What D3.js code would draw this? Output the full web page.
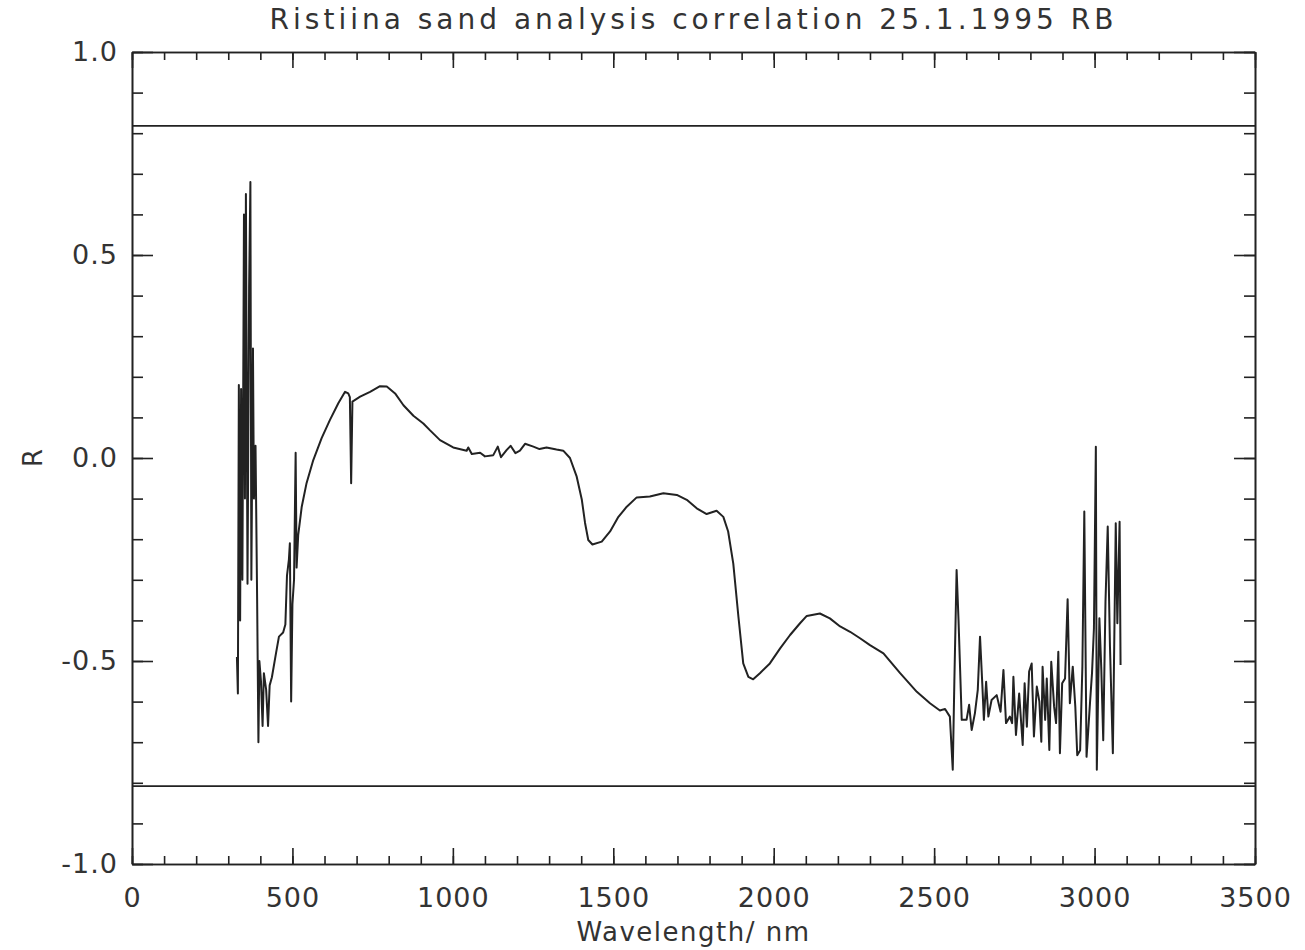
<!DOCTYPE html>
<html>
<head>
<meta charset="utf-8">
<script src="https://cdn.jsdelivr.net/npm/d3@7"></script>
<style>
  body { margin: 0; background: #fff; }
  text { font-family: "DejaVu Sans", sans-serif; fill: #333; }
</style>
</head>
<body>
<div id="chart"></div>
<script>
// correlation spectrum (wavelength in nm, R)
const wavelength = [
  327, 330, 333, 337, 340, 344, 349, 352, 355, 360, 365, 369, 372, 377, 380, 385, 390, 394, 397, 402,
  407, 411, 418, 424, 429, 436, 449, 458, 471, 478, 483, 489, 492, 496, 500, 505, 510, 513, 518, 529,
  544, 565, 591, 617, 643, 664, 674, 679, 683, 687, 711, 742, 773, 794, 820, 846, 877, 908, 929, 960,
  1001, 1043, 1048, 1059, 1085, 1100, 1126, 1140, 1150, 1168, 1180, 1195, 1209, 1225, 1251, 1270, 1292, 1323, 1344, 1365,
  1386, 1402, 1412, 1422, 1435, 1464, 1490, 1516, 1542, 1573, 1614, 1656, 1698, 1729, 1760, 1791, 1822, 1843, 1858, 1874,
  1890, 1905, 1921, 1936, 1957, 1988, 2020, 2051, 2082, 2103, 2144, 2175, 2207, 2238, 2269, 2300, 2342, 2394, 2446, 2487,
  2518, 2534, 2549, 2558, 2563, 2570, 2576, 2586, 2601, 2609, 2617, 2627, 2636, 2643, 2650, 2655, 2662, 2669, 2679, 2695,
  2707, 2716, 2724, 2736, 2743, 2747, 2755, 2765, 2776, 2782, 2789, 2796, 2804, 2811, 2820, 2828, 2834, 2838, 2846, 2851,
  2859, 2865, 2874, 2880, 2887, 2892, 2899, 2908, 2916, 2923, 2932, 2940, 2946, 2955, 2962, 2968, 2975, 2986, 2992, 2998,
  3004, 3007, 3015, 3021, 3027, 3034, 3041, 3048, 3057, 3066, 3071, 3078, 3081
];
const correlation = [
  -0.49, -0.58, 0.18, -0.40, 0.17, -0.30, 0.60, -0.10, 0.65, -0.31, 0.42, 0.68, -0.30, 0.27, -0.10, 0.03, -0.35, -0.70, -0.50, -0.55,
  -0.66, -0.53, -0.57, -0.66, -0.56, -0.54, -0.48, -0.44, -0.43, -0.41, -0.29, -0.25, -0.21, -0.60, -0.36, -0.30, 0.013, -0.27, -0.19, -0.12,
  -0.062, -0.005, 0.049, 0.094, 0.135, 0.163, 0.159, 0.150, -0.062, 0.139, 0.151, 0.163, 0.177, 0.176, 0.159, 0.130, 0.104, 0.085, 0.068, 0.044,
  0.026, 0.018, 0.026, 0.010, 0.013, 0.004, 0.007, 0.028, 0.002, 0.020, 0.030, 0.012, 0.018, 0.035, 0.028, 0.022, 0.026, 0.021, 0.018, 0.000,
  -0.046, -0.103, -0.160, -0.202, -0.213, -0.206, -0.181, -0.145, -0.120, -0.097, -0.095, -0.087, -0.091, -0.103, -0.124, -0.138, -0.130, -0.145, -0.181, -0.260,
  -0.391, -0.506, -0.539, -0.545, -0.530, -0.506, -0.469, -0.436, -0.407, -0.389, -0.383, -0.395, -0.415, -0.428, -0.444, -0.461, -0.481, -0.530, -0.576, -0.604,
  -0.622, -0.618, -0.637, -0.768, -0.550, -0.276, -0.400, -0.645, -0.645, -0.608, -0.670, -0.629, -0.571, -0.440, -0.555, -0.645, -0.551, -0.637, -0.596, -0.584,
  -0.625, -0.522, -0.653, -0.637, -0.653, -0.539, -0.682, -0.580, -0.707, -0.555, -0.662, -0.526, -0.506, -0.686, -0.563, -0.600, -0.699, -0.514, -0.645, -0.543,
  -0.719, -0.502, -0.613, -0.653, -0.477, -0.727, -0.555, -0.543, -0.348, -0.604, -0.514, -0.613, -0.732, -0.720, -0.514, -0.132, -0.736, -0.600, -0.530, -0.420,
  0.028, -0.768, -0.395, -0.520, -0.695, -0.354, -0.169, -0.465, -0.727, -0.161, -0.407, -0.157, -0.510
];
// significance limits drawn across the plot
const limits = [0.818, -0.808];

const xMajorTicks = [0, 500, 1000, 1500, 2000, 2500, 3000, 3500];
const xMinorTicks = d3.range(0, 3501, 100);
const yMajorTicks = [-1.0, -0.5, 0.0, 0.5, 1.0];
const yMinorTicks = d3.range(-10, 11).map(d => d / 10);

const titleText = "Ristiina sand analysis correlation 25.1.1995 RB";
const xTitle = "Wavelength/ nm";
const yTitle = "R";

const W = 1305, H = 950;
const margin = { top: 52, right: 50, bottom: 86, left: 132 };
const width = W - margin.left - margin.right;
const height = H - margin.top - margin.bottom;

const svg = d3.select("#chart").append("svg")
  .attr("width", W)
  .attr("height", H);

const g = svg.append("g")
  .attr("transform", `translate(${margin.left},${margin.top})`);

const x = d3.scaleLinear().domain([0, 3500]).range([0, width]);
const y = d3.scaleLinear().domain([-1, 1]).range([height, 0]);

const fmt = d => d === 0 ? "0.0" : d3.format(".1f")(d).replace("\u2212", "-");

function styleAxis(sel) {
  sel.selectAll("path, line").attr("stroke", "#222").attr("stroke-width", 1.6);
  sel.selectAll("text").attr("fill", "#3a3a3a").style("font-size", "27px").style("letter-spacing", "1px");
  sel.attr("font-family", null);
}

// bottom axis with labels
g.append("g")
  .attr("transform", `translate(0,${height})`)
  .call(d3.axisBottom(x).tickValues(xMinorTicks).tickFormat("").tickSizeInner(-8).tickSizeOuter(0))
  .call(styleAxis);
g.append("g")
  .attr("transform", `translate(0,${height})`)
  .call(d3.axisBottom(x).tickValues(xMajorTicks).tickFormat(d3.format("d")).tickSizeInner(-16).tickSizeOuter(0).tickPadding(24))
  .call(styleAxis);

// top axis
g.append("g")
  .call(d3.axisTop(x).tickValues(xMinorTicks).tickFormat("").tickSizeInner(-8).tickSizeOuter(0))
  .call(styleAxis);
g.append("g")
  .call(d3.axisTop(x).tickValues(xMajorTicks).tickFormat("").tickSizeInner(-16).tickSizeOuter(0))
  .call(styleAxis);

// left axis with labels
g.append("g")
  .call(d3.axisLeft(y).tickValues(yMinorTicks).tickFormat("").tickSizeInner(-11).tickSizeOuter(0))
  .call(styleAxis);
g.append("g")
  .call(d3.axisLeft(y).tickValues(yMajorTicks).tickFormat(fmt).tickSizeInner(-21).tickSizeOuter(0).tickPadding(14))
  .call(styleAxis);

// right axis
g.append("g")
  .attr("transform", `translate(${width},0)`)
  .call(d3.axisRight(y).tickValues(yMinorTicks).tickFormat("").tickSizeInner(-11).tickSizeOuter(0))
  .call(styleAxis);
g.append("g")
  .attr("transform", `translate(${width},0)`)
  .call(d3.axisRight(y).tickValues(yMajorTicks).tickFormat("").tickSizeInner(-21).tickSizeOuter(0))
  .call(styleAxis);

// limit lines
g.selectAll(".limit")
  .data(limits)
  .enter().append("line")
  .attr("class", "limit")
  .attr("x1", 0)
  .attr("x2", width)
  .attr("y1", d => y(d))
  .attr("y2", d => y(d))
  .attr("stroke", "#222")
  .attr("stroke-width", 1.8);

// correlation curve
const points = wavelength.map((w, i) => ({ w: w, r: correlation[i] }));
const line = d3.line()
  .x(d => x(d.w))
  .y(d => y(d.r));

g.append("path")
  .datum(points)
  .attr("fill", "none")
  .attr("stroke", "#222")
  .attr("stroke-width", 2)
  .attr("stroke-linejoin", "round")
  .attr("d", line);

// titles
svg.append("text")
  .attr("x", margin.left + width / 2)
  .attr("y", 29)
  .attr("text-anchor", "middle")
  .style("font-size", "28px")
  .style("letter-spacing", "4px")
  .text(titleText);

svg.append("text")
  .attr("x", margin.left + width / 2)
  .attr("y", 941)
  .attr("text-anchor", "middle")
  .style("font-size", "26px")
  .style("letter-spacing", "1.5px")
  .text(xTitle);

svg.append("text")
  .attr("transform", `translate(42,${margin.top + height / 2}) rotate(-90)`)
  .attr("text-anchor", "middle")
  .style("font-size", "26px")
  .text(yTitle);
</script>
</body>
</html>
